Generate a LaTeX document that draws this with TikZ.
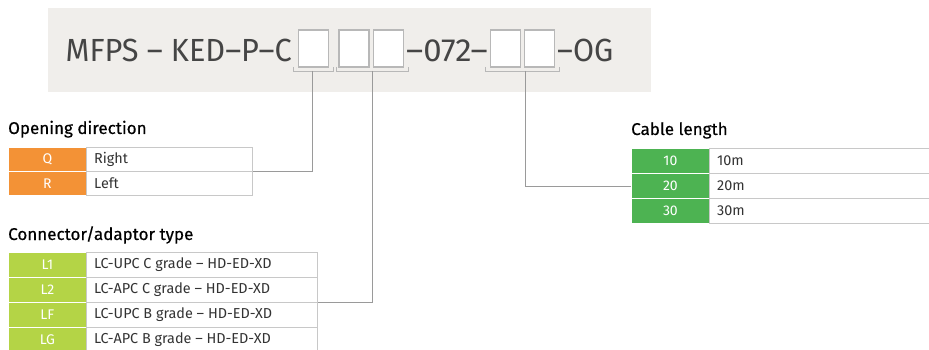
\documentclass[tikz,border=0pt]{standalone}
\usepackage{fontspec}
\setmainfont{Fira Sans}
\newfontfamily\titlefont{Fira Sans}[FakeBold=0.5]
\definecolor{band}{HTML}{F0EEEB}
\definecolor{slotline}{HTML}{B8B8B8}
\definecolor{cellline}{HTML}{C8C8C8}
\definecolor{orangec}{HTML}{F39236}
\definecolor{limec}{HTML}{B4D446}
\definecolor{greenc}{HTML}{4DB352}
\definecolor{txt}{HTML}{333333}
\definecolor{hdrtxt}{HTML}{454545}
\definecolor{conn}{HTML}{9A9A9A}
\tikzset{
  slot/.style={draw=slotline, line width=1.2pt, fill=white, minimum width=30pt, minimum height=37pt, inner sep=0pt},
  bracket/.style={draw=slotline, line width=0.8pt},
  connline/.style={draw=conn, line width=0.8pt},
  hdr/.style={font=\fontsize{32}{32}\selectfont, text=hdrtxt, inner sep=0pt},
  title/.style={font=\titlefont\fontsize{17}{18}\selectfont, text=black, anchor=base west, inner sep=0pt},
  keycell/.style={draw=white, line width=0.8pt, text=white, font=\fontsize{14}{14}\selectfont, inner sep=0pt, minimum height=24pt, anchor=north west},
  valcell/.style={draw=cellline, line width=0.8pt, fill=white, inner sep=0pt, minimum height=24pt, anchor=north west},
  valtext/.style={anchor=west, text=txt, font=\fontsize{14.4}{14.4}\selectfont, inner sep=0pt},
}
\begin{document}
\begin{tikzpicture}[x=1pt,y=-1pt]
\useasboundingbox (0,0) rectangle (929,350);
\fill[band] (48,8) rectangle (651,92);
% header
\node[hdr, anchor=base east, xscale=0.96, transform shape] (h1) at (292,62) {MFPS – KED–P–C};
\node[slot] (s1) at (313.5,48.5) {};
\node[slot] (s2) at (354,48.5) {};
\node[slot] (s3) at (388.5,48.5) {};
\node[hdr, anchor=base west, xscale=1.03, transform shape] (h2) at (406,62) {–072–};
\node[slot] (s4) at (505.5,48.5) {};
\node[slot] (s5) at (539.5,48.5) {};
\node[hdr, anchor=base west, xscale=0.95, transform shape] (h3) at (557,62) {–OG};
% brackets
\draw[bracket] (293,67) -- (293,71) -- (333,71) -- (333,67);
\draw[bracket] (336,67) -- (336,71) -- (408,71) -- (408,67);
\draw[bracket] (485,67) -- (485,71) -- (559,71) -- (559,67);
\coordinate (b1) at (312,71);
\coordinate (b2) at (372,71);
\coordinate (b3) at (525,71);
% Opening direction
\node[title] (t1) at (8,134) {Opening direction};
\node[keycell, fill=orangec, minimum width=78pt] (q) at (8,147) {Q};
\node[valcell, minimum width=166pt] (qr) at (86,147) {};
\node[valtext] at ([xshift=8pt]qr.west) {Right};
\node[keycell, fill=orangec, minimum width=78pt] (r) at (8,171) {R};
\node[valcell, minimum width=166pt] (rr) at (86,171) {};
\node[valtext] at ([xshift=8pt]rr.west) {Left};
% Connector/adaptor type
\node[title] (t2) at (8,240) {Connector/adaptor type};
\foreach \k/\v/\y/\n in {L1/LC-UPC C grade – HD-ED-XD/252/l1, L2/LC-APC C grade – HD-ED-XD/277/l2, LF/LC-UPC B grade – HD-ED-XD/302/lf, LG/LC-APC B grade – HD-ED-XD/327/lg}{
  \node[keycell, fill=limec, minimum width=78pt, minimum height=25pt] (\n k) at (8,\y) {\k};
  \node[valcell, minimum width=231pt, minimum height=25pt] (\n v) at (86,\y) {};
  \node[valtext] at ([xshift=8pt]\n v.west) {\v};
}
% Cable length
\node[title] (t3) at (631,135) {Cable length};
\foreach \k/\y/\n in {10/148/c10, 20/173/c20, 30/198/c30}{
  \node[keycell, fill=greenc, minimum width=78pt, minimum height=25pt] (\n k) at (631,\y) {\k};
  \node[valcell, minimum width=225pt, minimum height=25pt] (\n v) at (709,\y) {};
  \node[valtext] at ([xshift=8pt]\n v.west) {\k m};
}
% connectors
\draw[connline] (b1) |- (qr.south east);
\draw[connline] (b2) |- (l2v.south east);
\draw[connline] (b3) |- (c20k.west);
\end{tikzpicture}
\end{document}
